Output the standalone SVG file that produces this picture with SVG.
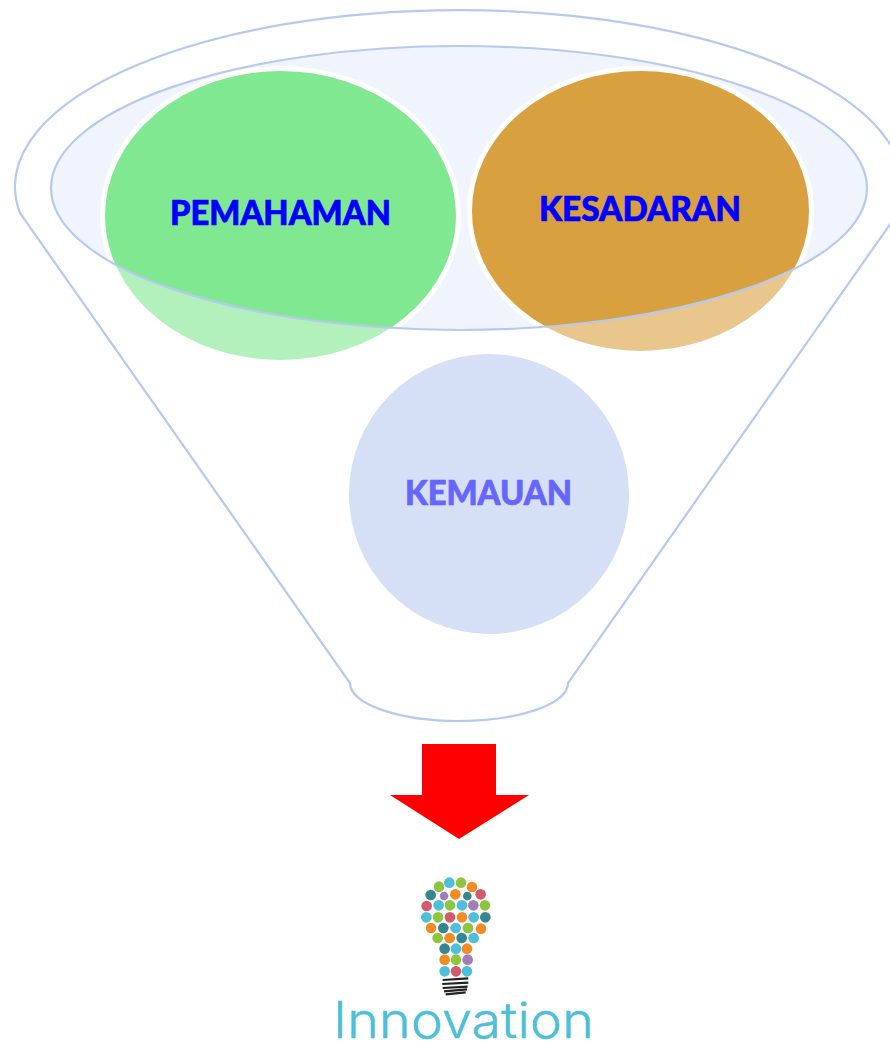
<svg xmlns="http://www.w3.org/2000/svg" width="890" height="1044" viewBox="0 0 890 1044">
<style>
.line{fill:none;stroke:#b6caf0;stroke-width:2.200}
.label{font-family:"Lato","Liberation Sans",sans-serif;font-weight:900;font-size:34px;fill:#0000ff;stroke:#0000ff;stroke-width:.7}
.c{fill:#4dbfd9}.g{fill:#8cc63f}.o{fill:#f08c23}.t{fill:#36868f}.r{fill:#d15a6d}.p{fill:#a57cba}
.bar{stroke:#222;stroke-width:6.500;fill:none}
</style>
<rect width="890" height="1044" fill="#fff"/>
<g id="funnel-back">
<ellipse cx="459" cy="188" rx="408" ry="142" fill="#f0f4fc"/>
</g>
<g id="pemahaman-shape">
<ellipse cx="280.500" cy="215.500" rx="178" ry="147" fill="#80e890" stroke="#fff" stroke-width="5"/>
</g>
<g id="kesadaran-shape">
<ellipse cx="640.500" cy="211" rx="171" ry="142.500" fill="#d9a040" stroke="#fff" stroke-width="5"/>
</g>
<g id="funnel-glass">
<path fill="#fff" fill-opacity="0.4" fill-rule="evenodd" d="M20,213A444,176.500 0 1 1 898,213L568,683A109,38 0 0 1 350,683ZM51,188A408,142 0 0 0 867,188A408,142 0 0 0 51,188Z"/>
</g>
<g id="connectors">
<path class="line" d="M20,213A444,176.500 0 1 1 898,213L568,683A109,38 0 0 1 350,683Z"/>
<ellipse class="line" cx="459" cy="188" rx="408" ry="142"/>
</g>
<g id="kemauan">
<circle cx="489" cy="494" r="140" fill="#d5dff5"/>
<text class="label" x="405" y="505" textLength="167" lengthAdjust="spacingAndGlyphs" style="fill:#6666ff;stroke:#6666ff">KEMAUAN</text>
</g>
<g id="pemahaman">
<text class="label" x="170" y="225" textLength="221" lengthAdjust="spacingAndGlyphs">PEMAHAMAN</text>
</g>
<g id="kesadaran">
<text class="label" x="539" y="221" textLength="202" lengthAdjust="spacingAndGlyphs">KESADARAN</text>
</g>
<g id="arrow">
<polygon points="422,744 496,744 496,795 529,795 459,839 390,795 422,795" fill="#ff0000"/>
</g>
<g id="innovation-logo">
<g transform="translate(320 860) scale(0.3333)">
<circle class="g" cx="357" cy="80" r="16"/><circle class="c" cx="388" cy="68" r="16"/><circle class="g" cx="423" cy="68" r="16"/><circle class="o" cx="456" cy="81" r="16"/>
<circle class="t" cx="332" cy="105" r="16"/><circle class="p" cx="372" cy="108" r="13"/><circle class="o" cx="406" cy="103" r="16"/><circle class="t" cx="442" cy="108" r="13"/><circle class="r" cx="482" cy="103" r="16"/>
<circle class="r" cx="320" cy="138" r="16"/><circle class="c" cx="356" cy="136" r="16"/><circle class="g" cx="390" cy="136" r="16"/><circle class="c" cx="426" cy="136" r="16"/><circle class="p" cx="460" cy="136" r="16"/><circle class="g" cx="495" cy="136" r="16"/>
<circle class="c" cx="319" cy="172" r="16"/><circle class="g" cx="354" cy="172" r="16"/><circle class="r" cx="390" cy="172" r="16"/><circle class="o" cx="426" cy="172" r="16"/><circle class="c" cx="461" cy="172" r="16"/><circle class="t" cx="496" cy="172" r="16"/>
<circle class="o" cx="333" cy="204" r="16"/><circle class="t" cx="370" cy="204" r="16"/><circle class="c" cx="407" cy="204" r="16"/><circle class="g" cx="444" cy="204" r="16"/><circle class="o" cx="483" cy="206" r="16"/>
<circle class="g" cx="353" cy="234" r="16"/><circle class="o" cx="389" cy="234" r="16"/><circle class="t" cx="425" cy="234" r="16"/><circle class="c" cx="461" cy="234" r="16"/>
<circle class="t" cx="374" cy="266" r="16"/><circle class="c" cx="408" cy="266" r="16"/><circle class="o" cx="441" cy="266" r="16"/>
<circle class="o" cx="374" cy="299" r="16"/><circle class="g" cx="408" cy="299" r="16"/><circle class="p" cx="443" cy="299" r="16"/>
<circle class="c" cx="374" cy="334" r="16"/><circle class="r" cx="408" cy="334" r="16"/><circle class="c" cx="441" cy="334" r="16"/>
<path class="bar" d="M368,360L445,355M367,372L445,368M368,384L443,380M372,394L441,388M377,403L437,397"/>
</g>
<text x="333" y="1038" textLength="261" lengthAdjust="spacingAndGlyphs" font-family="Inter,'Open Sans',sans-serif" font-weight="300" font-size="50" fill="#4dbfd9" stroke="#4dbfd9" stroke-width=".4">Innovation</text>
</g>
</svg>
